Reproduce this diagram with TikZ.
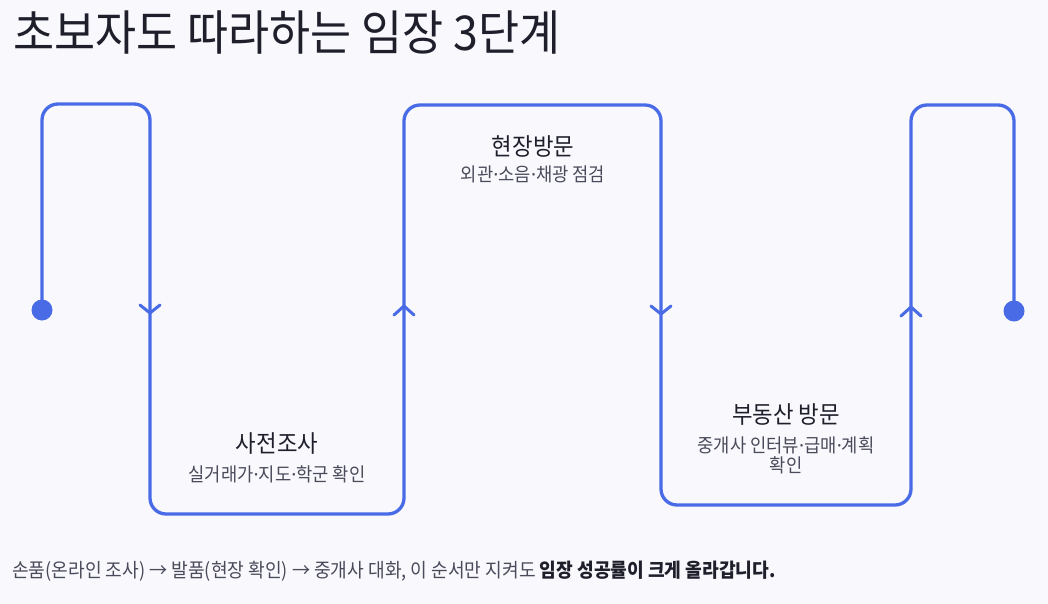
\documentclass[tikz,border=0pt]{standalone}
\usepackage{fontspec}
\setmainfont{Noto Sans CJK KR}[FakeStretch=0.93]
\newfontfamily\dotfont{Noto Sans}
\usepackage{xcolor}
\usepackage{tikz}

\definecolor{pathblue}{HTML}{4A6BE6}
\definecolor{bgpaper}{HTML}{F8F8FD}
\definecolor{inkdark}{HTML}{1E1F2B}
\definecolor{inkgray}{HTML}{4A4B5A}

\newcommand\mdot{{\dotfont ·}}

\tikzset{
  snake/.style={draw=pathblue, line width=3.3pt, rounded corners=16pt},
  chev/.style={draw=pathblue, line width=3pt, line cap=round, line join=round},
  enddot/.style={circle, fill=pathblue, inner sep=0pt, minimum size=21pt},
  stephead/.style={anchor=base, inner sep=0pt, font=\fontsize{24}{26}\selectfont, text=inkdark},
  stepnote/.style={anchor=base, inner sep=0pt, font=\fontsize{19}{20}\selectfont, text=inkgray, align=center},
}

\begin{document}
\begin{tikzpicture}[x=1pt,y=-1pt]
\useasboundingbox (0,0) rectangle (1048,604);
\fill[bgpaper] (0,0) rectangle (1048,604);

\node (title) at (13,51) [anchor=base west,inner sep=0pt,font=\fontsize{48}{52}\selectfont,text=inkdark] {초보자도 따라하는 임장 3단계};

\node (start) at (42,310) [enddot] {};
\node (end) at (1014,311) [enddot] {};
\coordinate (c1) at (42,104);
\coordinate (c2) at (150,104);
\coordinate (c3) at (150,514);
\coordinate (c4) at (404,514);
\coordinate (c5) at (404,105);
\coordinate (c6) at (661,105);
\coordinate (c7) at (661,505);
\coordinate (c8) at (911,505);
\coordinate (c9) at (911,105);
\coordinate (c10) at (1014,105);
\draw[snake] (start.center) -- (c1) -- (c2) -- (c3) -- (c4) -- (c5) -- (c6) -- (c7) -- (c8) -- (c9) -- (c10) -- (end.center);

% direction marks
\coordinate (a1) at (150,313);
\coordinate (a2) at (404,306);
\coordinate (a3) at (661,314);
\coordinate (a4) at (911,307);
\draw[chev] (a1) +(-10,-8) -- (a1) -- +(10,-8);
\draw[chev] (a2) +(-10,9) -- (a2) -- +(10,9);
\draw[chev] (a3) +(-10,-8) -- (a3) -- +(10,-8);
\draw[chev] (a4) +(-10,9) -- (a4) -- +(10,9);

\node (survey) at (277,452) [stephead] {사전조사};
\node (surveynote) at (277,481) [stepnote] {실거래가\mdot 지도\mdot 학군 확인};
\node (visit) at (533,155.5) [stephead] {현장방문};
\node (visitnote) at (533,182) [stepnote] {외관\mdot 소음\mdot 채광 점검};
\node (agent) at (786,423.5) [stephead] {부동산 방문};
\node (agentnote) at (786,472) [stepnote] {중개사 인터뷰\mdot 급매\mdot 계획\\확인};

\node (summary) at (12,577) [anchor=base west,inner sep=0pt,font=\fontsize{19.5}{22}\selectfont,text=inkgray] {손품(온라인 조사) → 발품(현장 확인) → 중개사 대화, 이 순서만 지켜도 {\bfseries\color{inkdark}임장 성공률이 크게 올라갑니다.}};
\end{tikzpicture}
\end{document}
